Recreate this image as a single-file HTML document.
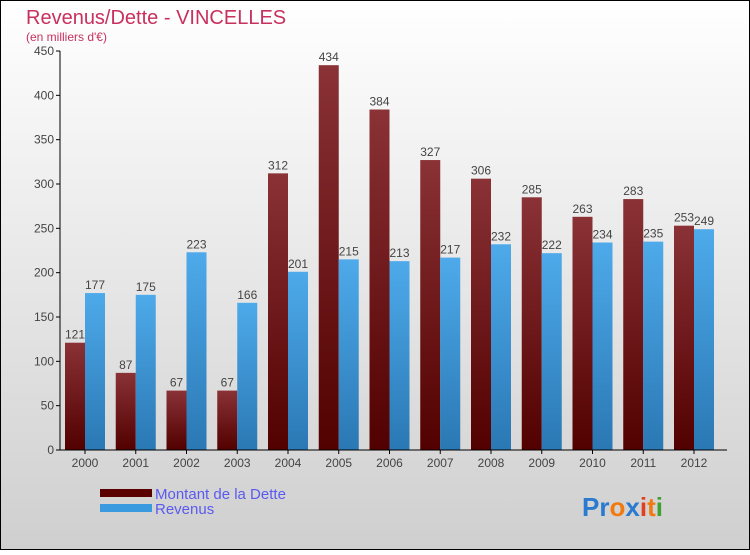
<!DOCTYPE html>
<html><head><meta charset="utf-8"><style>
html,body{margin:0;padding:0}
body{width:750px;height:550px;overflow:hidden;font-family:"Liberation Sans",sans-serif}
</style></head><body>
<svg width="750" height="550" xmlns="http://www.w3.org/2000/svg">
<defs>
<linearGradient id="bg" x1="0" y1="0" x2="0" y2="1"><stop offset="0" stop-color="#ffffff"/><stop offset="1" stop-color="#cfcfcf"/></linearGradient>
<linearGradient id="gd" x1="0" y1="0" x2="0" y2="1"><stop offset="0" stop-color="#8a3236"/><stop offset="1" stop-color="#520000"/></linearGradient>
<linearGradient id="gr" x1="0" y1="0" x2="0" y2="1"><stop offset="0" stop-color="#4eaaea"/><stop offset="1" stop-color="#2a78b4"/></linearGradient>
</defs>
<rect x="0.5" y="0.5" width="749" height="549" fill="url(#bg)" stroke="#000"/>
<text x="26" y="24" font-size="20" fill="#c8305e">Revenus/Dette - VINCELLES</text>
<text x="26" y="41" font-size="12" fill="#c8305e">(en milliers d'€)</text>
<g id="plot"></g>
<g>
<rect x="100" y="489" width="52" height="8" fill="#5a0000"/>
<text x="155" y="499" font-size="15" fill="#5a5af0">Montant de la Dette</text>
<rect x="100" y="504" width="52" height="8" fill="#3a9ae0"/>
<text x="155" y="514" font-size="15" fill="#5a5af0">Revenus</text>
</g>
<g font-size="26" font-weight="bold">
<text x="582" y="516"><tspan fill="#2a7ad0">Pr</tspan><tspan fill="#f07a10">o</tspan><tspan fill="#2a7ad0">x</tspan><tspan fill="#e04020">i</tspan><tspan fill="#f07a10">t</tspan><tspan fill="#40a030">i</tspan></text>
</g>
</svg>
<script>
const years=["2000","2001","2002","2003","2004","2005","2006","2007","2008","2009","2010","2011","2012"];
const dette=[121,87,67,67,312,434,384,327,306,285,263,283,253];
const revenus=[177,175,223,166,201,215,213,217,232,222,234,235,249];
const yTicks=[0,50,100,150,200,250,300,350,400,450];
const NS="http://www.w3.org/2000/svg";
const g=document.getElementById('plot');
const x0=60,x1=727,y0=450,yTop=51,yMax=450;
const y=v=>y0-(v/yMax)*(y0-yTop);
const step=50.75,c0=85,bw=20;
const cx=i=>c0+i*step;
function mk(t,a){const e=document.createElementNS(NS,t);for(const k in a)e.setAttribute(k,a[k]);g.appendChild(e);return e;}
yTicks.forEach(t=>{
 const l=mk('line',{x1:x0-4,x2:x0,y1:y(t),y2:y(t),stroke:'#000'});
 
 
 const tx=mk('text',{x:x0-6,y:y(t)+4,'text-anchor':'end','font-size':12,fill:'#444'});
 tx.textContent=t;
 
 
});
years.forEach((yr,i)=>{
 const a=mk('rect',{x:cx(i)-bw,y:y(dette[i]),width:bw,height:y0-y(dette[i]),fill:'url(#gd)'});
 
 
 const b=mk('rect',{x:cx(i),y:y(revenus[i]),width:bw,height:y0-y(revenus[i]),fill:'url(#gr)'});
 
 
 const la=mk('text',{x:cx(i)-bw/2,y:y(dette[i])-4,'text-anchor':'middle','font-size':12,fill:'#444'});
 la.textContent=dette[i];
 
 
 const lb=mk('text',{x:cx(i)+bw/2,y:y(revenus[i])-4,'text-anchor':'middle','font-size':12,fill:'#444'});
 lb.textContent=revenus[i];
 
 
 const xt=mk('line',{x1:cx(i),x2:cx(i),y1:y0,y2:y0+4,stroke:'#000'});
 
 
 const xl=mk('text',{x:cx(i),y:y0+17,'text-anchor':'middle','font-size':12,fill:'#444'});
 xl.textContent=yr;
 
 
});
const ya=mk('line',{x1:x0,x2:x0,y1:yTop,y2:y0,stroke:'#000'});


const xa=mk('line',{x1:x0,x2:x1,y1:y0,y2:y0,stroke:'#000'});


</script>
</body></html>
